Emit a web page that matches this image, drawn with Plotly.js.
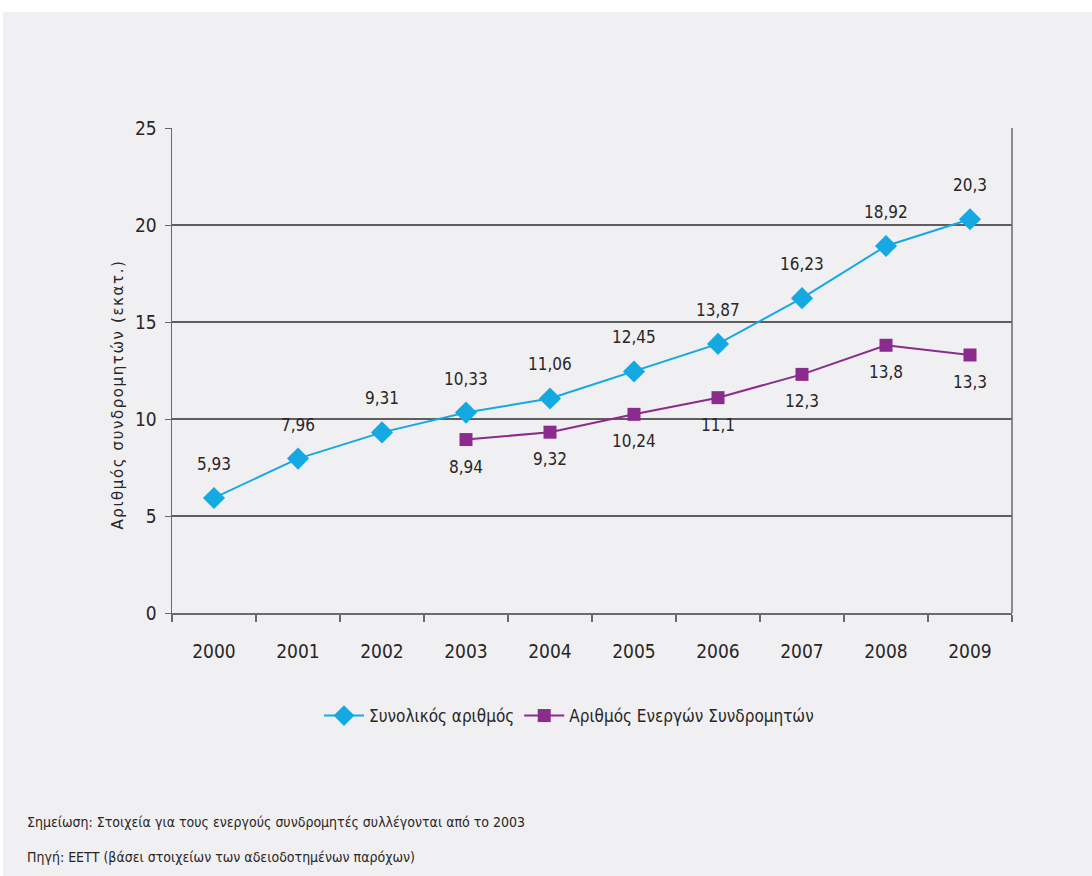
<!DOCTYPE html>
<html>
<head>
<meta charset="utf-8">
<script src="https://cdn.plot.ly/plotly-3.0.1.min.js"></script>
<style>
html,body{margin:0;padding:0;background:#ffffff;}
#wrap{position:absolute;left:0;top:0;width:1092px;height:876px;background:#ffffff;}
#chart{position:absolute;left:3px;top:12px;width:1089px;height:864px;}
#chart svg text{font-stretch:condensed !important;}
#chart .annotation[data-index="17"] text{letter-spacing:1.6px;font-stretch:normal !important;}
</style>
</head>
<body>
<div id="wrap"><div id="chart"></div></div>
<script>
const years = ['2000','2001','2002','2003','2004','2005','2006','2007','2008','2009'];
const totalSubs = [5.93, 7.96, 9.31, 10.33, 11.06, 12.45, 13.87, 16.23, 18.92, 20.3];
const activeYears = ['2003','2004','2005','2006','2007','2008','2009'];
const activeSubs = [8.94, 9.32, 10.24, 11.1, 12.3, 13.8, 13.3];
const yTicks = [0, 5, 10, 15, 20, 25];
const seriesNames = ['Συνολικός αριθμός', 'Αριθμός Ενεργών Συνδρομητών'];
const yTitle = 'Αριθμός συνδρομητών (εκατ.)';
const notes = ['Σημείωση: Στοιχεία για τους ενεργούς συνδρομητές συλλέγονται από το 2003',
               'Πηγή: ΕΕΤΤ (βάσει στοιχείων των αδειοδοτημένων παρόχων)'];

const FONT = '"DejaVu Sans Condensed", "DejaVu Sans", sans-serif';
const TXT = '#2a2526';
const fmt = v => String(v).replace('.', ',');

const traces = [
  {x: years, y: totalSubs, type: 'scatter', mode: 'lines+markers', name: seriesNames[0],
   line: {color: '#15a9e4', width: 2},
   marker: {symbol: 'diamond', size: 17, color: '#15a9e4'}},
  {x: activeYears, y: activeSubs, type: 'scatter', mode: 'lines+markers', name: seriesNames[1],
   line: {color: '#8c2b8e', width: 2},
   marker: {symbol: 'square', size: 13, color: '#8c2b8e'}}
];

const annotations = [];
years.forEach((yr, i) => annotations.push({x: years.indexOf(yr), y: totalSubs[i], xref: 'x', yref: 'y',
  text: fmt(totalSubs[i]), showarrow: false, yshift: 34, font: {family: FONT, size: 17, color: TXT}}));
activeYears.forEach((yr, i) => annotations.push({x: years.indexOf(yr), y: activeSubs[i], xref: 'x', yref: 'y',
  text: fmt(activeSubs[i]), showarrow: false, yshift: -27, font: {family: FONT, size: 17, color: TXT}}));
annotations.push({xref: 'paper', yref: 'paper', x: (115 - 169) / 840, y: (601 - 383) / 485,
  text: yTitle, textangle: -90, showarrow: false, xanchor: 'center', yanchor: 'middle',
  font: {family: '"DejaVu Sans", sans-serif', size: 15, color: TXT}});
annotations.push({xref: 'paper', yref: 'paper', x: (22 - 169) / 840, y: (601 - 810) / 485,
  text: notes[0], showarrow: false, xanchor: 'left', yanchor: 'middle',
  font: {family: FONT, size: 14, color: TXT}});
annotations.push({xref: 'paper', yref: 'paper', x: (22 - 169) / 840, y: (601 - 845) / 485,
  text: notes[1], showarrow: false, xanchor: 'left', yanchor: 'middle',
  font: {family: FONT, size: 14, color: TXT}});

const layout = {
  width: 1089, height: 864,
  margin: {l: 169, r: 80, t: 116, b: 263, pad: 0},
  paper_bgcolor: '#f0f0f2', plot_bgcolor: '#f0f0f2',
  showlegend: true,
  legend: {orientation: 'h', x: (566 - 169) / 840, xanchor: 'center', y: (601 - 704) / 485, yanchor: 'middle',
    font: {family: FONT, size: 17, color: TXT}, bgcolor: 'rgba(0,0,0,0)', itemwidth: 40},
  xaxis: {type: 'category', range: [-0.5, years.length - 0.5], autorange: false,
    tickson: 'boundaries', ticks: 'outside', ticklen: 7, tickcolor: '#6a6a6a', tickwidth: 1.5,
    showgrid: false, showline: true, linecolor: '#6a6a6a', linewidth: 2, mirror: false, tickangle: 0,
    tickfont: {family: FONT, size: 19, color: TXT}, ticklabelstandoff: 20, zeroline: false},
  yaxis: {range: [0, 25], autorange: false, tickvals: yTicks, ticks: 'outside', ticklen: 6, tickcolor: '#6a6a6a',
    showgrid: true, gridcolor: '#5e5e5e', gridwidth: 1.6, showline: true, linecolor: '#6a6a6a', linewidth: 1.5,
    tickfont: {family: FONT, size: 19, color: TXT}, zeroline: false, ticklabelstandoff: 4},
  shapes: [{type: 'line', xref: 'paper', yref: 'paper', x0: 1, x1: 1, y0: 0, y1: 1,
    line: {color: '#6a6a6a', width: 1.5}}],
  annotations: annotations
};

Plotly.newPlot('chart', traces, layout, {displayModeBar: false, staticPlot: true});
</script>
</body>
</html>
